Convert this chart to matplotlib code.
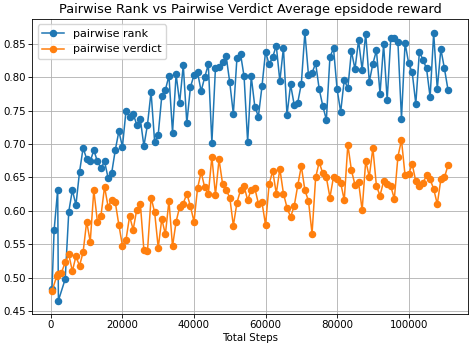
import matplotlib
matplotlib.use("Agg")
import matplotlib.pyplot as plt

# logged steps: the first few episodes are uneven, then one point every 1000 steps
rank_head_steps = [300, 900, 1900, 2100]
verdict_head_steps = [300, 1600, 2100, 2900]
tail_steps = [
    4000, 5000, 6000, 7000, 8000, 9000, 10000, 11000, 12000, 13000,
    14000, 15000, 16000, 17000, 18000, 19000, 20000, 21000, 22000, 23000,
    24000, 25000, 26000, 27000, 28000, 29000, 30000, 31000, 32000, 33000,
    34000, 35000, 36000, 37000, 38000, 39000, 40000, 41000, 42000, 43000,
    44000, 45000, 46000, 47000, 48000, 49000, 50000, 51000, 52000, 53000,
    54000, 55000, 56000, 57000, 58000, 59000, 60000, 61000, 62000, 63000,
    64000, 65000, 66000, 67000, 68000, 69000, 70000, 71000, 72000, 73000,
    74000, 75000, 76000, 77000, 78000, 79000, 80000, 81000, 82000, 83000,
    84000, 85000, 86000, 87000, 88000, 89000, 90000, 91000, 92000, 93000,
    94000, 95000, 96000, 97000, 98000, 99000, 100000, 101000, 102000, 103000,
    104000, 105000, 106000, 107000, 108000, 109000, 110000, 111000,
]

rank_reward = [
    0.483, 0.571, 0.632, 0.466,
    0.498, 0.599, 0.631, 0.609, 0.658, 0.694, 0.678, 0.674, 0.691, 0.674,
    0.664, 0.674, 0.649, 0.657, 0.691, 0.719, 0.696, 0.750, 0.741, 0.745,
    0.729, 0.737, 0.697, 0.729, 0.778, 0.703, 0.714, 0.772, 0.781, 0.802,
    0.717, 0.804, 0.762, 0.818, 0.731, 0.785, 0.803, 0.807, 0.779, 0.800,
    0.819, 0.702, 0.814, 0.815, 0.822, 0.831, 0.792, 0.745, 0.828, 0.835,
    0.801, 0.703, 0.801, 0.756, 0.741, 0.786, 0.838, 0.819, 0.830, 0.847,
    0.794, 0.844, 0.743, 0.789, 0.759, 0.762, 0.790, 0.867, 0.803, 0.806,
    0.821, 0.782, 0.757, 0.736, 0.830, 0.843, 0.782, 0.748, 0.796, 0.783,
    0.839, 0.812, 0.855, 0.811, 0.865, 0.793, 0.820, 0.840, 0.775, 0.849,
    0.766, 0.858, 0.858, 0.852, 0.738, 0.851, 0.821, 0.807, 0.760, 0.838,
    0.826, 0.813, 0.770, 0.866, 0.782, 0.842, 0.813, 0.781,
]

verdict_reward = [
    0.480, 0.502, 0.505, 0.507,
    0.523, 0.535, 0.510, 0.532, 0.518, 0.538, 0.584, 0.554, 0.631, 0.584,
    0.593, 0.636, 0.606, 0.617, 0.613, 0.579, 0.548, 0.557, 0.592, 0.572,
    0.602, 0.611, 0.541, 0.540, 0.620, 0.598, 0.545, 0.588, 0.565, 0.615,
    0.547, 0.584, 0.606, 0.611, 0.626, 0.607, 0.584, 0.634, 0.658, 0.635,
    0.625, 0.681, 0.624, 0.677, 0.640, 0.631, 0.620, 0.578, 0.612, 0.631,
    0.637, 0.616, 0.632, 0.634, 0.611, 0.613, 0.579, 0.640, 0.660, 0.626,
    0.663, 0.626, 0.605, 0.591, 0.607, 0.638, 0.667, 0.631, 0.615, 0.566,
    0.650, 0.673, 0.656, 0.650, 0.620, 0.651, 0.647, 0.642, 0.616, 0.699,
    0.661, 0.639, 0.643, 0.601, 0.675, 0.651, 0.694, 0.637, 0.623, 0.644,
    0.640, 0.637, 0.618, 0.681, 0.706, 0.653, 0.655, 0.670, 0.644, 0.637,
    0.642, 0.653, 0.647, 0.633, 0.610, 0.647, 0.650, 0.668,
]

rank_steps = rank_head_steps + tail_steps
verdict_steps = verdict_head_steps + tail_steps

fig, ax = plt.subplots(figsize=(4.73, 3.5), dpi=100)
fig.subplots_adjust(left=0.068, right=0.989, bottom=0.103, top=0.946)

ax.plot(rank_steps, rank_reward, marker="o", ms=4.4, lw=1.1, color="tab:blue", label="pairwise rank")
ax.plot(verdict_steps, verdict_reward, marker="o", ms=4.4, lw=1.1, color="tab:orange", label="pairwise verdict")

ax.set_title("Pairwise Rank vs Pairwise Verdict Average epsidode reward", fontsize=9.25, pad=4)
ax.set_xlabel("Total Steps", fontsize=7.4, labelpad=2)
ax.tick_params(labelsize=7.4, length=2.6, width=0.6, pad=2)
for spine in ax.spines.values():
    spine.set_linewidth(0.6)
ax.grid(True, lw=0.6)
ax.legend(loc="upper left", fontsize=8.0)

fig.savefig("out.png", dpi=100)
